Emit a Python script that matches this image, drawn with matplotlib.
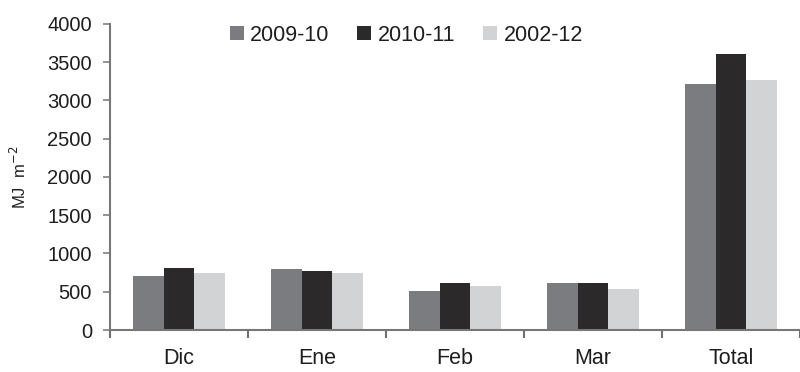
import numpy as np
import matplotlib.pyplot as plt

plt.rcParams['font.family'] = ['Liberation Sans', 'DejaVu Sans']

# radiación acumulada por mes (MJ m-2)
meses = ["Dic", "Ene", "Feb", "Mar", "Total"]
temporadas = ["2009-10", "2010-11", "2002-12"]
s2009 = [700, 800, 510, 610, 3210]
s2010 = [810, 765, 620, 620, 3610]
s2002 = [740, 745, 570, 535, 3265]
colores = ["#7b7c80", "#2b292a", "#d1d3d5"]

fig = plt.figure(figsize=(8, 3.72), dpi=100)
ax = fig.add_axes([0.1375, 0.1129, 0.8625, 0.8226])

x = np.arange(len(meses))
ancho = 0.22
for j, (vals, nombre) in enumerate(zip([s2009, s2010, s2002], temporadas)):
    ax.bar(x + (j - 1) * ancho, vals, width=ancho, color=colores[j],
           label=nombre, zorder=2)

ax.set_ylim(0, 4000)
ax.set_xlim(-0.5, 4.5 - 9 / 140)
ax.set_yticks(range(0, 4001, 500))

# marcas del eje x entre categorías, etiquetas al centro
ax.set_xticks(np.arange(-0.5, 4.6, 1.0))
ax.set_xticklabels([])
ax.set_xticks(x, minor=True)
ax.set_xticklabels(meses, minor=True, fontsize=15.5)
ax.tick_params(axis='x', which='minor', length=0, pad=13, colors='#1e1e1e')
ax.tick_params(axis='x', which='major', length=6, width=1.5,
               direction='out', color='#707070')
ax.tick_params(axis='y', length=5, width=1.2, direction='out',
               color='#808080', labelsize=14.5, pad=8, labelcolor='#1e1e1e')

for lado in ['top', 'right']:
    ax.spines[lado].set_visible(False)
for lado in ['left', 'bottom']:
    ax.spines[lado].set_color('#777777')
    ax.spines[lado].set_linewidth(1.5)

ax.set_ylabel("MJ  m$^{-2}$", fontsize=12, labelpad=13, color='#222222')

fig.legend(loc='center', bbox_to_anchor=(0.508, 0.905), ncol=3,
           frameon=False, fontsize=15.5, handlelength=0.65, handleheight=0.65,
           handletextpad=0.3, columnspacing=1.3, labelcolor='#1e1e1e')

plt.savefig("out.png", dpi=100)
